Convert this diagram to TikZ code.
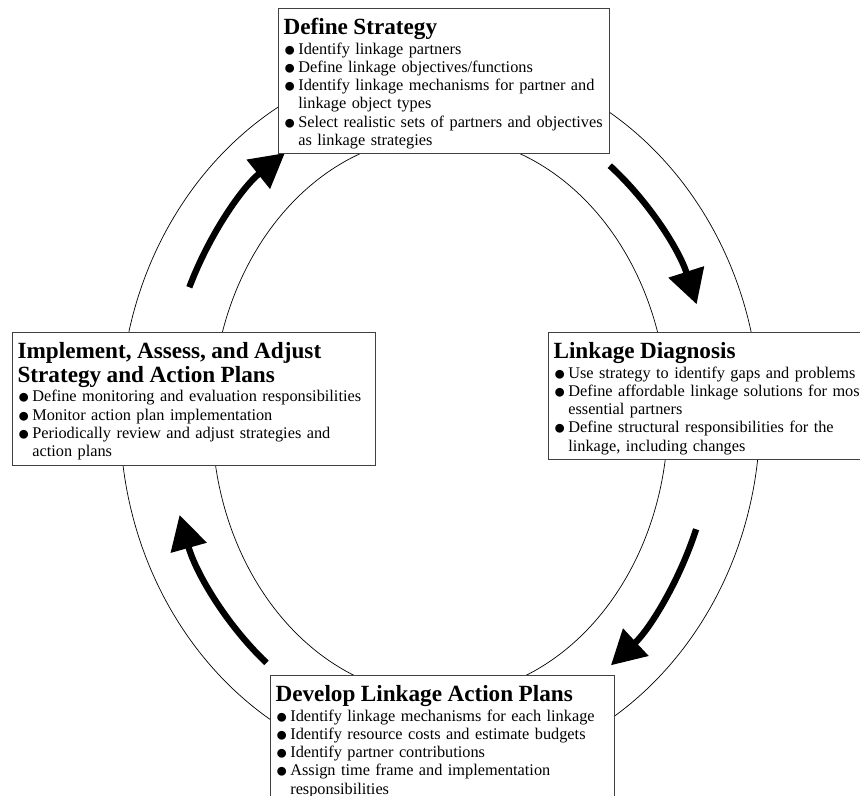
\documentclass[tikz,border=0pt]{standalone}
\usepackage{fontspec}
\setmainfont{Liberation Serif}
\usetikzlibrary{arrows.meta}

\newlength{\bulw}
\setlength{\bulw}{10.5pt}
\newcommand{\bul}{\makebox[\bulw][l]{\raisebox{-1.4pt}{\fontsize{14.5}{14.5}\selectfont ●}}}
\newcommand{\itm}[1]{\par\noindent\hangindent=\bulw\hangafter=1\bul#1\strut\par}
\newcommand{\ttl}[1]{\noindent{\fontsize{16.5}{17}\selectfont\bfseries\rule{0pt}{16.4pt}#1\par}\vspace{1pt}}

\begin{document}
\begin{tikzpicture}[
    box/.style={rectangle, draw=black!75, line width=0.8pt, fill=white,
                anchor=north west, inner xsep=0.125cm, inner ysep=2pt,
                align=left, font=\fontsize{11.6}{13}\selectfont},
    ring/.style={draw=black, line width=0.5pt},
    flow/.style={-{Triangle[length=0.85cm, width=0.9cm]}, line width=4.5pt}
]

    \useasboundingbox (0, 0) rectangle (21.5, 19.9);
    \clip (0, 0) rectangle (21.5, 19.9);

    % Centre of the cycle
    \coordinate (c) at (11, 9.5);

    % Outer and inner rings
    \draw[ring] (c) ellipse [x radius=8cm, y radius=8.95cm];
    \draw[ring] (c) ellipse [x radius=5.7cm, y radius=7cm];

    % Flow arrows between the rings
    \path (c) ++(156.2:6.85cm and 7.975cm) coordinate (f1);
    \path (c) ++(51.7:6.85cm and 7.975cm) coordinate (f2);
    \path (c) ++(-20.8:6.85cm and 7.975cm) coordinate (f3);
    \path (c) ++(230.7:6.85cm and 7.975cm) coordinate (f4);
    \draw[flow] (f1) arc[start angle=156.2, end angle=124.5, x radius=6.85cm, y radius=7.975cm];
    \draw[flow] (f2) arc[start angle=51.7, end angle=20.5, x radius=6.85cm, y radius=7.975cm];
    \draw[flow] (f3) arc[start angle=-20.8, end angle=-51.4, x radius=6.85cm, y radius=7.975cm];
    \draw[flow] (f4) arc[start angle=230.7, end angle=198.1, x radius=6.85cm, y radius=7.975cm];

    % Define Strategy
    \node[box, text width=8.025cm] (strategy) at (6.95, 19.7) {%
        \ttl{Define Strategy}
        \itm{Identify linkage partners}
        \itm{Define linkage objectives/functions}
        \itm{Identify linkage mechanisms for partner and\newline linkage object types}
        \itm{Select realistic sets of partners and objectives\newline as linkage strategies}};

    % Linkage Diagnosis
    \node[box, text width=8.125cm] (diagnosis) at (13.7, 11.6) {%
        \ttl{Linkage Diagnosis}
        \itm{Use strategy to identify gaps and problems}
        \itm{Define affordable linkage solutions for most\newline essential partners}
        \itm{Define structural responsibilities for the\newline linkage, including changes}};

    % Develop Linkage Action Plans
    \node[box, text width=8.35cm] (plans) at (6.75, 3.025) {%
        \ttl{Develop Linkage Action Plans}
        \itm{Identify linkage mechanisms for each linkage}
        \itm{Identify resource costs and estimate budgets}
        \itm{Identify partner contributions}
        \itm{Assign time frame and implementation\newline responsibilities}};

    % Implement, Assess, and Adjust
    \node[box, text width=8.825cm] (adjust) at (0.3, 11.6) {%
        \ttl{Implement, Assess, and Adjust\newline Strategy and Action Plans}
        \itm{Define monitoring and evaluation responsibilities}
        \itm{Monitor action plan implementation}
        \itm{Periodically review and adjust strategies and\newline action plans}};

\end{tikzpicture}
\end{document}
